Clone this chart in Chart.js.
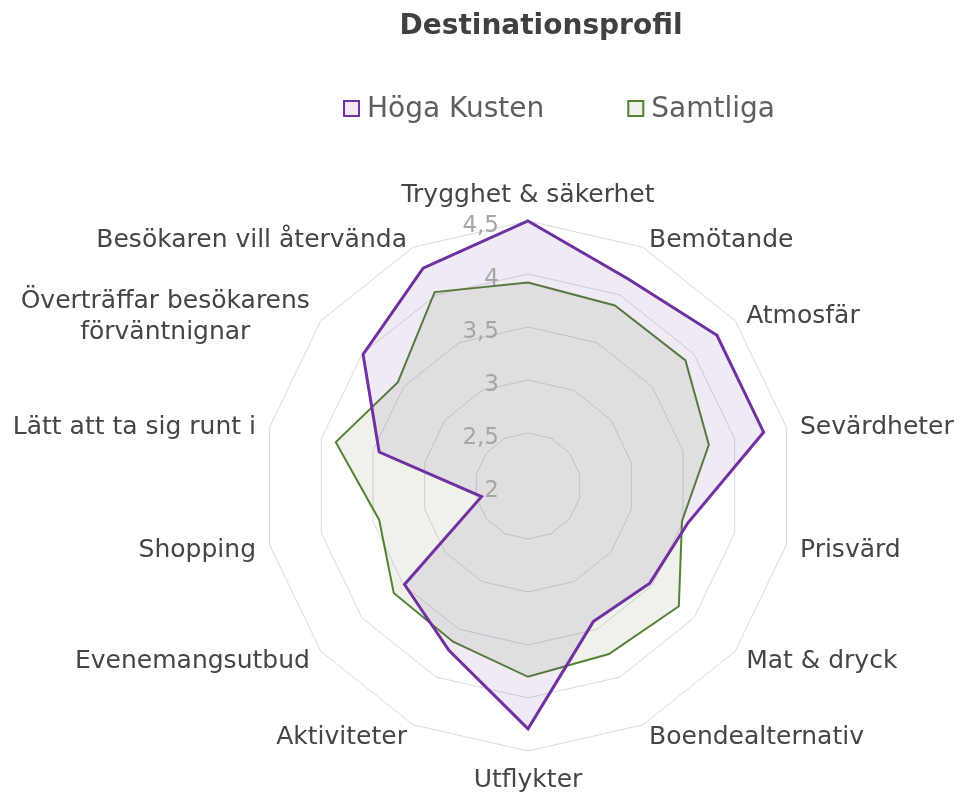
<!DOCTYPE html>
<html>
<head>
<meta charset="utf-8">
<script src="https://cdn.jsdelivr.net/npm/chart.js@4.4.1/dist/chart.umd.min.js"></script>
<style>
  html, body { margin: 0; padding: 0; background: #ffffff; }
  #wrap { width: 959px; height: 792px; }
</style>
</head>
<body>
<div id="wrap"><canvas id="chart" width="959" height="792"></canvas></div>
<script>
const chartTitle = 'Destinationsprofil';

const categories = [
  'Trygghet & säkerhet',
  'Bemötande',
  'Atmosfär',
  'Sevärdheter',
  'Prisvärd',
  'Mat & dryck',
  'Boendealternativ',
  'Utflykter',
  'Aktiviteter',
  'Evenemangsutbud',
  'Shopping',
  'Lätt att ta sig runt i',
  ['Överträffar besökarens', 'förväntnignar'],
  'Besökaren vill återvända'
];

const seriesNames = ['Höga Kusten', 'Samtliga'];

const hogaKusten = [4.50, 4.17, 4.28, 4.28, 3.55, 3.47, 3.42, 4.29, 3.72, 3.49, 2.45, 3.44, 3.99, 4.28];
const samtliga   = [3.92, 3.89, 3.90, 3.75, 3.49, 3.82, 3.76, 3.80, 3.63, 3.62, 3.44, 3.86, 3.57, 4.03];

const tickValues = [2, 2.5, 3, 3.5, 4, 4.5];
const tickLabels = ['2', '2,5', '3', '3,5', '4', '4,5'];

const FONT = '"DejaVu Sans", "Liberation Sans", sans-serif';

// Title and legend drawn in the band above the radar
const headerPlugin = {
  id: 'header',
  afterDraw(chart) {
    const ctx = chart.ctx;
    ctx.save();
    ctx.fillStyle = '#404040';
    ctx.font = 'bold 28px ' + FONT;
    ctx.textAlign = 'center';
    ctx.textBaseline = 'alphabetic';
    ctx.fillText(chartTitle, 541, 34);

    ctx.font = '28px ' + FONT;
    const box = 17, gapText = 7, gapItem = 83;
    const items = chart.data.datasets.map(ds => ({
      text: ds.label, stroke: ds.borderColor, fill: ds.backgroundColor,
      w: ctx.measureText(ds.label).width
    }));
    const total = items.reduce((s, it) => s + box + gapText + it.w, 0) + gapItem * (items.length - 1);
    let x = 559 - total / 2;
    const boxTop = 100;
    items.forEach(it => {
      ctx.fillStyle = '#ffffff';
      ctx.fillRect(x, boxTop, box, box);
      ctx.fillStyle = it.fill;
      ctx.fillRect(x, boxTop, box, box);
      ctx.lineWidth = 2;
      ctx.strokeStyle = it.stroke;
      ctx.strokeRect(x + 1, boxTop + 1, box - 2, box - 2);
      ctx.fillStyle = '#5f5f5f';
      ctx.textAlign = 'left';
      ctx.fillText(it.text, x + box + gapText, 117);
      x += box + gapText + it.w + gapItem;
    });
    ctx.restore();
  }
};

// Category names round the outer ring and the value labels on the vertical axis
const axisTextPlugin = {
  id: 'axisText',
  afterDatasetsDraw(chart) {
    const scale = chart.scales.r;
    const ctx = chart.ctx;
    ctx.save();
    ctx.font = '25px ' + FONT;
    ctx.fillStyle = '#454545';
    ctx.textAlign = 'center';
    ctx.textBaseline = 'middle';
    const lh = 31;
    categories.forEach((name, i) => {
      const angle = scale.getIndexAngle(i);
      const s = Math.sin(angle), c = Math.cos(angle);
      const p = scale.getPointPosition(i, scale.drawingArea + 14);
      const lines = Array.isArray(name) ? name : [name];
      const w = Math.max(...lines.map(l => ctx.measureText(l).width));
      let cx = p.x;
      if (s > 0.01) cx = p.x + w / 2;
      else if (s < -0.01) cx = p.x - w / 2;
      const blockH = lines.length * lh;
      let top;
      if (c > 0.99) top = p.y - blockH + 4;
      else if (c < -0.99) top = p.y;
      else top = p.y - blockH / 2 + 3 + 3 * c;
      lines.forEach((l, k) => ctx.fillText(l, cx, top + lh * k + lh / 2));
    });

    const tickSize = 23;
    ctx.font = tickSize + 'px ' + FONT;
    ctx.fillStyle = '#a6a6a6';
    ctx.textAlign = 'right';
    ctx.textBaseline = 'alphabetic';
    tickValues.forEach((v, k) => {
      const d = scale.getDistanceFromCenterForValue(v);
      ctx.fillText(tickLabels[k], scale.xCenter - 29, scale.yCenter - d + 2.5 + 0.365 * tickSize);
    });
    ctx.restore();
  }
};

new Chart(document.getElementById('chart'), {
  type: 'radar',
  data: {
    labels: categories,
    datasets: [
      {
        label: seriesNames[0],
        data: hogaKusten,
        borderColor: '#7030A0',
        backgroundColor: 'rgba(112, 48, 160, 0.10)',
        borderWidth: 3,
        fill: true
      },
      {
        label: seriesNames[1],
        data: samtliga,
        borderColor: '#548235',
        backgroundColor: 'rgba(84, 130, 53, 0.10)',
        borderWidth: 2,
        fill: true
      }
    ]
  },
  options: {
    responsive: false,
    animation: false,
    devicePixelRatio: 1,
    layout: { padding: { top: 221, bottom: 41, left: 97, right: 0 } },
    elements: {
      line: { tension: 0, borderJoinStyle: 'miter' },
      point: { radius: 0, hoverRadius: 0, hitRadius: 0 }
    },
    plugins: {
      legend: { display: false },
      title: { display: false },
      tooltip: { enabled: false }
    },
    scales: {
      r: {
        min: 2,
        max: 4.5,
        ticks: { stepSize: 0.5, display: false },
        grid: { color: '#d9d9d9', lineWidth: 1, circular: false },
        angleLines: { display: false },
        pointLabels: { display: false }
      }
    }
  },
  plugins: [headerPlugin, axisTextPlugin]
});
</script>
</body>
</html>
